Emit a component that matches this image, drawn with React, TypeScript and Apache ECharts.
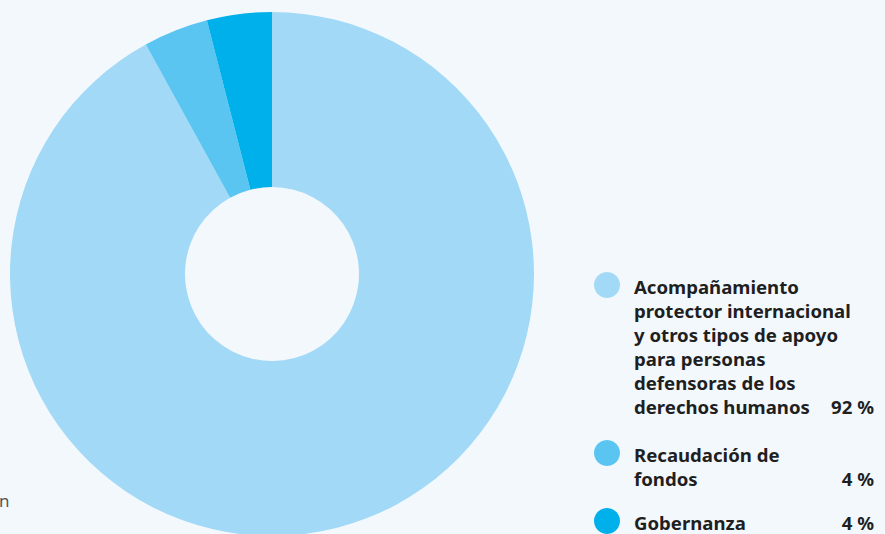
import React, { useEffect, useRef } from "react";
import * as echarts from "echarts";

const categories: string[][] = [
  ["Acompañamiento", "protector internacional", "y otros tipos de apoyo", "para personas", "defensoras de los", "derechos humanos"],
  ["Recaudación de", "fondos"],
  ["Gobernanza"],
];
const values: number[] = [92, 4, 4];
const percentLabels: string[] = ["92 %", "4 %", "4 %"];
const colors: string[] = ["#a1d9f7", "#5bc5f2", "#00b0ea"];

export default function App() {
  const ref = useRef<HTMLDivElement>(null);
  useEffect(() => {
    if (!ref.current) return;
    const chart = echarts.init(ref.current, undefined, { renderer: "svg" });
    const font = "'Noto Sans', sans-serif";
    const lineH = 24;
    const legendTops = [285, 453, 521];
    const graphic: any[] = [];
    categories.forEach((lines, i) => {
      const top = legendTops[i];
      graphic.push({
        type: "circle",
        shape: { cx: 607, cy: top, r: 13 },
        style: { fill: colors[i] },
      });
      lines.forEach((ln, j) => {
        graphic.push({
          type: "text",
          x: 634,
          y: top + 1 + j * lineH,
          style: {
            text: ln,
            fill: "#1f1f1f",
            font: `bold 18.6px ${font}`,
            verticalAlign: "middle",
            align: "left",
          },
        });
      });
      graphic.push({
        type: "text",
        x: 874,
        y: top + 1 + (lines.length - 1) * lineH,
        style: {
          text: percentLabels[i],
          fill: "#1f1f1f",
          font: `bold 18.6px ${font}`,
          verticalAlign: "middle",
          align: "right",
        },
      });
    });
    graphic.push({
      type: "text",
      x: -1,
      y: 500,
      style: {
        text: "n",
        fill: "#555555",
        font: `17px ${font}`,
        verticalAlign: "middle",
        align: "left",
      },
    });

    chart.setOption({
      animation: false,
      backgroundColor: "#f3f8fd",
      graphic,
      series: [
        {
          type: "pie",
          center: [272, 274],
          radius: [87, 262],
          startAngle: 90,
          clockwise: true,
          label: { show: false },
          labelLine: { show: false },
          emphasis: { disabled: true },
          silent: true,
          data: values.map((v, i) => ({
            value: v,
            name: categories[i].join(" "),
            itemStyle: { color: colors[i] },
          })),
        },
      ],
    });
    return () => chart.dispose();
  }, []);
  return (
    <div
      ref={ref}
      style={{ position: "absolute", left: 0, top: 0, width: 885, height: 534 }}
    />
  );
}
